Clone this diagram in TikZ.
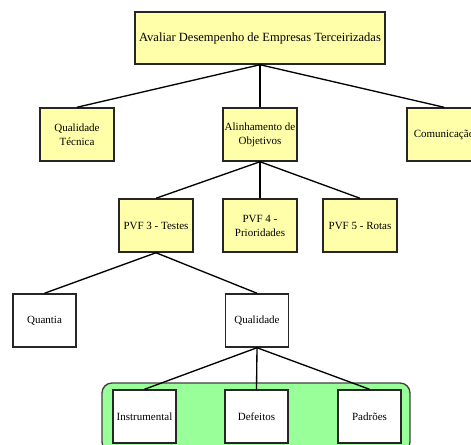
\documentclass[tikz,border=0pt]{standalone}
\usepackage{fontspec}
\setmainfont{Liberation Serif}
\definecolor{boxyellow}{RGB}{255,255,170}
\definecolor{groupgreen}{RGB}{153,255,153}
\begin{document}
\begin{tikzpicture}[x=0.75pt, y=-0.75pt,
		goal/.style={draw=black!85, line width=1.1pt, fill=boxyellow, align=center, inner sep=1pt,
			minimum width=55.5pt, minimum height=39.75pt, font=\fontsize{8.25}{10.5}\selectfont},
		leaf/.style={goal, fill=white, minimum width=47pt},
		link/.style={line width=1pt}]
		\path[use as bounding box, clip] (0,0) rectangle (471,445);
		% grupo verde dos indicadores
		\draw[fill=groupgreen, draw=black!75, line width=1pt, rounded corners=7.5pt] (102,383) rectangle (410,452);
		% nivel 0
		\node[goal, minimum width=187.5pt, minimum height=39pt, font=\fontsize{9.4}{11}\selectfont] (top) at (260,38) {Avaliar Desempenho de Empresas Terceirizadas};
		% nivel 1
		\node[goal] (tec) at (77,134.5) {Qualidade\\Técnica};
		\node[goal] (alin) at (260,134.5) {Alinhamento de\\Objetivos};
		\node[goal] (com) at (444,134.5) {Comunicação};
		% nivel 2
		\node[goal] (pvf3) at (156,225.5) {PVF 3 - Testes};
		\node[goal] (pvf4) at (260,225.5) {PVF 4 -\\Prioridades};
		\node[goal] (pvf5) at (360,225.5) {PVF 5 - Rotas};
		% nivel 3
		\node[leaf] (quant) at (44.5,320.5) {Quantia};
		\node[leaf] (qual) at (257,320.5) {Qualidade};
		% nivel 4
		\node[leaf] (instr) at (144.5,416.5) {Instrumental};
		\node[leaf] (def) at (256.5,416.5) {Defeitos};
		\node[leaf] (pad) at (369.5,416.5) {Padrões};
		% ligacoes
		\draw[link] (top.south) -- (tec.north);
		\draw[link] (top.south) -- (alin.north);
		\draw[link] (top.south) -- (com.north);
		\draw[link] (alin.south) -- (pvf3.north);
		\draw[link] (alin.south) -- (pvf4.north);
		\draw[link] (alin.south) -- (pvf5.north);
		\draw[link] (pvf3.south) -- (quant.north);
		\draw[link] (pvf3.south) -- (qual.north);
		\draw[link] (qual.south) -- (instr.north);
		\draw[link] (qual.south) -- (def.north);
		\draw[link] (qual.south) -- (pad.north);
	\end{tikzpicture}
\end{document}
